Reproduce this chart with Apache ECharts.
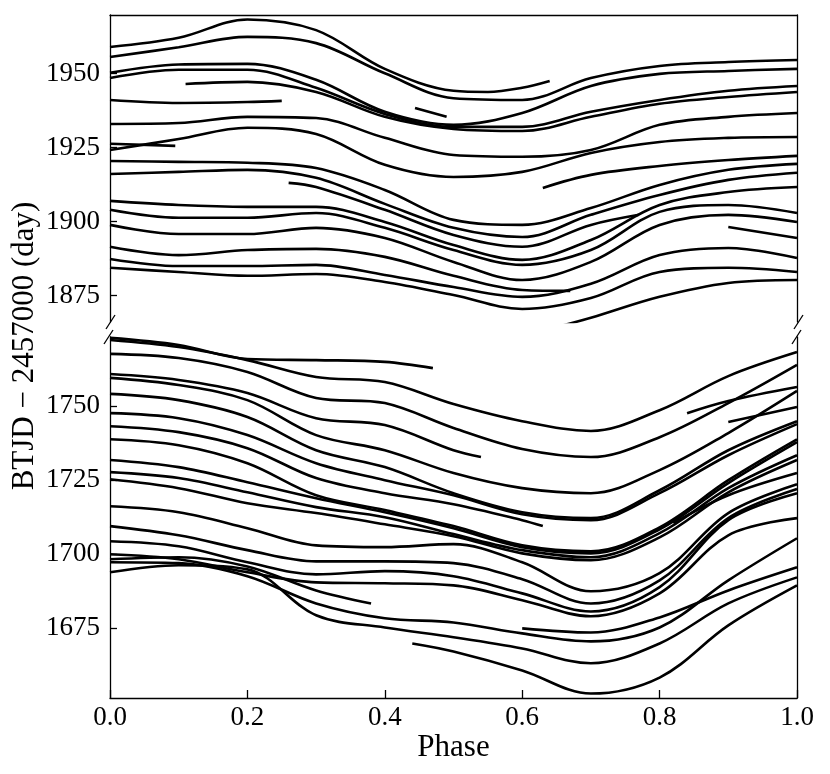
<!DOCTYPE html>
<html>
<head>
<meta charset="utf-8">
<script src="https://cdn.jsdelivr.net/npm/echarts@6.0.0/dist/echarts.min.js"></script>
<style>
  html, body { margin: 0; padding: 0; background: #fff; }
  #chart { width: 830px; height: 774px; }
</style>
</head>
<body>
<div id="chart"></div>
<script>
// phase ticks and day ticks
var phaseTicks = [0, 0.2, 0.4, 0.6, 0.8, 1.0];
var upperTicks = [1875, 1900, 1925, 1950];
var lowerTicks = [1675, 1700, 1725, 1750];
var upperRange = [1866.1, 1969.8];
var lowerRange = [1651.4, 1773.2];

// upper panel curves: [phase, BTJD - 2457000]
var top01 = [[0,1959.0],[0.1,1962.1],[0.2,1968.3],[0.3,1964.7],[0.4,1951.6],[0.5,1944.2],[0.55,1943.8],[0.6,1945.2],[0.64,1947.5]];
var top02 = [[0,1955.6],[0.1,1958.9],[0.2,1962.4],[0.3,1960.3],[0.4,1950.1],[0.5,1941.7],[0.6,1941.1],[0.7,1948.5],[0.8,1952.6],[0.9,1953.9],[1,1954.6]];
var top03 = [[0,1950.3],[0.1,1953.1],[0.2,1953.3],[0.3,1947.9],[0.4,1937.1],[0.5,1932.7],[0.6,1936.7],[0.7,1945.8],[0.8,1949.9],[0.9,1950.9],[1,1951.6]];
var top04 = [[0,1948.5],[0.1,1951.3],[0.2,1951.3],[0.3,1945.2],[0.4,1936.4],[0.5,1932.0],[0.6,1932.0],[0.7,1937.1],[0.8,1941.1],[0.9,1944.2],[1,1945.8]];
var top05 = [[0.11,1946.5],[0.2,1947.2],[0.3,1943.8],[0.4,1935.4],[0.5,1931.3],[0.6,1930.6],[0.7,1935.4],[0.8,1939.8],[0.9,1942.1],[1,1943.8]];
var top06 = [[0,1941.1],[0.1,1940.1],[0.2,1940.4],[0.25,1940.8]];
var top07 = [[0,1933.0],[0.1,1933.3],[0.2,1935.4],[0.3,1935.0],[0.4,1928.3],[0.5,1922.5],[0.6,1921.9],[0.7,1924.2],[0.8,1932.7],[0.9,1935.4],[1,1936.7]];
var top08 = [[0,1926.3],[0.095,1925.6]];
var top09 = [[0,1924.2],[0.1,1927.9],[0.2,1931.7],[0.3,1929.6],[0.4,1919.2],[0.5,1915.1],[0.6,1916.8],[0.7,1923.2],[0.8,1926.9],[0.9,1928.3],[1,1928.6]];
var top10 = [[0,1920.5],[0.1,1920.2],[0.2,1919.9],[0.3,1918.1],[0.4,1910.7],[0.5,1900.6],[0.6,1898.9],[0.7,1904.6],[0.8,1912.4],[0.9,1917.5],[1,1919.5]];
var top11 = [[0.63,1911.4],[0.7,1915.8],[0.8,1918.8],[0.9,1920.8],[1,1922.2]];
var top12 = [[0,1916.1],[0.1,1916.8],[0.2,1917.5],[0.3,1914.8],[0.4,1906.0],[0.5,1897.9],[0.6,1894.8],[0.7,1902.3],[0.8,1909.0],[0.9,1914.1],[1,1916.5]];
var top13 = [[0.26,1913.1],[0.3,1911.7],[0.4,1904.0],[0.5,1895.5],[0.6,1891.5],[0.7,1898.9],[0.77,1902.3]];
var top14 = [[0,1907.0],[0.1,1905.6],[0.2,1905.0],[0.3,1905.0],[0.4,1899.9],[0.5,1892.1],[0.6,1887.1],[0.7,1893.8],[0.8,1905.6],[0.9,1910.0],[1,1911.7]];
var top15 = [[0,1904.0],[0.1,1901.3],[0.2,1901.3],[0.3,1902.9],[0.4,1897.9],[0.5,1890.4],[0.6,1885.4],[0.7,1890.4],[0.8,1903.3],[0.9,1905.6],[1,1902.9]];
var top16 = [[0,1898.9],[0.1,1895.8],[0.2,1895.8],[0.3,1897.9],[0.4,1894.5],[0.5,1886.4],[0.6,1880.3],[0.7,1886.4],[0.8,1898.9],[0.9,1902.3],[1,1899.9]];
var top17 = [[0.9,1898.2],[1,1894.5]];
var top18 = [[0,1891.5],[0.1,1888.7],[0.2,1890.4],[0.3,1890.8],[0.4,1888.1],[0.5,1881.7],[0.6,1876.9],[0.67,1876.6]];
var top19 = [[0,1887.4],[0.1,1885.0],[0.2,1885.0],[0.3,1885.4],[0.4,1882.0],[0.5,1877.9],[0.6,1874.6],[0.7,1879.0],[0.8,1888.7],[0.9,1891.1],[1,1887.7]];
var top20 = [[0,1884.4],[0.1,1883.0],[0.2,1881.7],[0.3,1882.3],[0.4,1879.6],[0.5,1875.2],[0.6,1870.5],[0.7,1874.2],[0.8,1883.0],[0.9,1884.4],[1,1883.0]];
var top21 = [[0.66,1865.0],[0.7,1867.5],[0.8,1874.6],[0.9,1879.3],[1,1880.3]];
var top22 = [[0.444,1938.4],[0.49,1935.4]];

// lower panel curves
var bot01 = [[0,1772.9],[0.1,1770.5],[0.2,1765.8],[0.3,1765.4],[0.4,1764.8],[0.47,1762.7]];
var bot02 = [[0,1772.2],[0.1,1769.8],[0.2,1765.4],[0.3,1759.7],[0.4,1758.0],[0.5,1750.6],[0.6,1744.8],[0.7,1741.5],[0.8,1748.5],[0.9,1760.0],[1,1768.1]];
var bot03 = [[0,1767.5],[0.1,1766.1],[0.2,1761.4],[0.3,1752.6],[0.4,1750.9],[0.5,1742.5],[0.6,1735.4],[0.7,1732.7],[0.8,1739.4],[0.9,1750.9],[1,1763.8]];
var bot04 = [[0,1760.7],[0.1,1758.7],[0.2,1754.3],[0.3,1745.8],[0.4,1743.5],[0.5,1735.0],[0.54,1732.7]];
var bot05 = [[0,1759.4],[0.1,1757.0],[0.2,1751.9],[0.3,1740.1],[0.4,1735.0],[0.5,1727.3],[0.6,1722.2],[0.7,1720.5],[0.8,1728.3],[0.9,1740.8],[1,1755.0]];
var bot06 = [[0.84,1747.5],[0.9,1751.6],[1,1756.3]];
var bot07 = [[0,1754.0],[0.1,1751.9],[0.2,1746.2],[0.3,1735.0],[0.4,1729.3],[0.5,1720.5],[0.6,1714.1],[0.7,1712.1],[0.8,1721.5],[0.9,1735.0],[1,1744.8]];
var bot08 = [[0.9,1744.5],[1,1749.6]];
var bot09 = [[0,1747.5],[0.1,1745.8],[0.2,1740.1],[0.3,1730.6],[0.4,1724.9],[0.5,1719.8],[0.6,1713.4],[0.7,1711.4],[0.8,1720.5],[0.9,1733.3],[1,1743.8]];
var bot10 = [[0,1743.1],[0.1,1741.1],[0.2,1735.7],[0.3,1725.6],[0.4,1720.5],[0.5,1716.8],[0.6,1711.4],[0.63,1709.4]];
var bot11 = [[0,1738.7],[0.1,1736.7],[0.2,1730.6],[0.3,1719.8],[0.4,1714.8],[0.5,1709.4],[0.6,1702.9],[0.7,1700.9],[0.8,1709.0],[0.9,1724.9],[1,1738.7]];
var bot12 = [[0,1731.7],[0.1,1729.3],[0.2,1724.2],[0.3,1718.8],[0.4,1714.1],[0.5,1708.7],[0.6,1702.3],[0.7,1700.2],[0.8,1708.3],[0.9,1723.9],[1,1737.7]];
var bot13 = [[0,1727.6],[0.1,1725.6],[0.2,1720.8],[0.3,1715.8],[0.4,1712.4],[0.5,1706.7],[0.6,1701.3],[0.7,1698.9],[0.8,1707.0],[0.9,1722.2],[1,1733.3]];
var bot14 = [[0,1725.2],[0.1,1722.2],[0.2,1717.1],[0.3,1713.8],[0.4,1710.0],[0.5,1706.0],[0.6,1700.2],[0.7,1697.9],[0.8,1705.6],[0.9,1720.8],[1,1731.7]];
var bot15 = [[0.82,1710.4],[0.9,1719.8],[1,1727.3]];
var bot16 = [[0,1716.1],[0.1,1714.1],[0.2,1708.7],[0.3,1702.9],[0.4,1702.3],[0.5,1703.3],[0.6,1697.2],[0.7,1687.4],[0.8,1693.5],[0.9,1713.8],[1,1723.5]];
var bot17 = [[0,1709.4],[0.1,1706.3],[0.2,1701.3],[0.3,1697.5],[0.4,1697.5],[0.5,1696.9],[0.6,1691.5],[0.7,1683.3],[0.8,1691.1],[0.9,1712.1],[1,1721.9]];
var bot18 = [[0,1704.3],[0.1,1702.6],[0.2,1697.2],[0.3,1693.1],[0.4,1694.2],[0.5,1692.5],[0.6,1686.7],[0.7,1680.6],[0.8,1688.8],[0.9,1711.4],[1,1720.5]];
var bot19 = [[0,1699.9],[0.1,1698.2],[0.2,1693.8],[0.3,1690.4],[0.4,1690.1],[0.5,1689.4],[0.6,1684.4],[0.7,1679.0],[0.8,1686.7],[0.9,1706.3],[1,1712.1]];
var bot20 = [[0,1698.2],[0.1,1698.9],[0.2,1695.8],[0.3,1687.7],[0.38,1683.3]];
var bot21 = [[0,1697.2],[0.1,1696.9],[0.2,1692.5],[0.3,1683.3],[0.4,1678.3],[0.5,1676.9],[0.6,1673.2],[0.7,1670.5],[0.8,1675.2],[0.9,1691.1],[1,1705.3]];
var bot22 = [[0.6,1674.9],[0.7,1673.5],[0.8,1678.6],[0.9,1687.7],[1,1695.5]];
var bot23 = [[0,1693.8],[0.1,1696.2],[0.2,1694.8],[0.3,1679.3],[0.4,1675.2],[0.5,1671.9],[0.6,1668.1],[0.7,1663.1],[0.8,1669.8],[0.9,1683.3],[1,1692.1]];
var bot24 = [[0.44,1669.8],[0.5,1667.1],[0.6,1660.7],[0.7,1652.9],[0.8,1658.3],[0.9,1675.9],[1,1689.4]];

var topCurves = [top01, top02, top03, top04, top05, top06, top07, top08, top09, top10, top11,
    top12, top13, top14, top15, top16, top17, top18, top19, top20, top21, top22];
var botCurves = [bot01, bot02, bot03, bot04, bot05, bot06, bot07, bot08, bot09, bot10, bot11, bot12,
    bot13, bot14, bot15, bot16, bot17, bot18, bot19, bot20, bot21, bot22, bot23, bot24];

var serif = 'Liberation Serif';
var axisColor = '#000';

var chart = echarts.init(document.getElementById('chart'), null, { renderer: 'canvas' });

var series = [];
topCurves.forEach(function (c) {
    series.push({
        type: 'line', xAxisIndex: 0, yAxisIndex: 0, data: c,
        smooth: 0.35, showSymbol: false, silent: true,
        lineStyle: { color: '#000', width: 2.6 }
    });
});
botCurves.forEach(function (c) {
    series.push({
        type: 'line', xAxisIndex: 1, yAxisIndex: 2, data: c,
        smooth: 0.35, showSymbol: false, silent: true,
        lineStyle: { color: '#000', width: 2.6 }
    });
});

function sideAxis(grid, range, pos) {
    return {
        type: 'value', gridIndex: grid, position: pos, min: range[0], max: range[1],
        axisLine: { show: true, lineStyle: { color: axisColor, width: 1.3 } },
        axisTick: { show: false }, axisLabel: { show: false }, splitLine: { show: false }
    };
}

function tickAxis(grid, range, ticks) {
    return {
        type: 'value', gridIndex: grid, position: 'left', min: range[0], max: range[1],
        axisLine: { show: true, lineStyle: { color: axisColor, width: 1.3 } },
        axisTick: { show: true, inside: true, length: 7, customValues: ticks,
            lineStyle: { color: axisColor, width: 1.3 } },
        axisLabel: { show: true, customValues: ticks, margin: 10, color: '#000',
            fontFamily: serif, fontSize: 27,
            formatter: function (v) { return String(v); } },
        splitLine: { show: false }
    };
}

var option = {
    animation: false,
    backgroundColor: '#fff',
    grid: [
        { left: 110, right: 33, top: 15, height: 307 },
        { left: 110, right: 33, top: 337, bottom: 76 }
    ],
    xAxis: [
        {
            type: 'value', gridIndex: 0, position: 'top', min: 0, max: 1,
            axisLine: { show: true, lineStyle: { color: axisColor, width: 1.3 } },
            axisTick: { show: false }, axisLabel: { show: false }, splitLine: { show: false }
        },
        {
            type: 'value', gridIndex: 1, position: 'bottom', min: 0, max: 1,
            name: 'Phase', nameLocation: 'middle', nameGap: 13,
            nameTextStyle: { color: '#000', fontFamily: serif, fontSize: 31 },
            axisLine: { show: true, lineStyle: { color: axisColor, width: 1.3 } },
            axisTick: { show: true, inside: true, length: 8, customValues: phaseTicks,
                lineStyle: { color: axisColor, width: 1.3 } },
            axisLabel: { show: true, customValues: phaseTicks, margin: 6, color: '#000',
                fontFamily: serif, fontSize: 27,
                formatter: function (v) { return v.toFixed(1); } },
            splitLine: { show: false }
        }
    ],
    yAxis: [
        tickAxis(0, upperRange, upperTicks),
        sideAxis(0, upperRange, 'right'),
        tickAxis(1, lowerRange, lowerTicks),
        sideAxis(1, lowerRange, 'right')
    ],
    graphic: [
        {
            type: 'text', x: 25, y: 346, rotation: Math.PI / 2,
            style: { text: 'BTJD \u2212 2457000 (day)', fill: '#000', font: '31px "Liberation Serif"',
                align: 'center', verticalAlign: 'middle' }
        },
        // axis break marks
        { type: 'line', shape: { x1: 106, y1: 329, x2: 115, y2: 315 }, style: { stroke: '#000', lineWidth: 1.3 } },
        { type: 'line', shape: { x1: 104, y1: 344, x2: 113, y2: 330 }, style: { stroke: '#000', lineWidth: 1.3 } },
        { type: 'line', shape: { x1: 794, y1: 329, x2: 803, y2: 315 }, style: { stroke: '#000', lineWidth: 1.3 } },
        { type: 'line', shape: { x1: 792, y1: 344, x2: 801, y2: 330 }, style: { stroke: '#000', lineWidth: 1.3 } }
    ],
    series: series
};

chart.setOption(option);
</script>
</body>
</html>
